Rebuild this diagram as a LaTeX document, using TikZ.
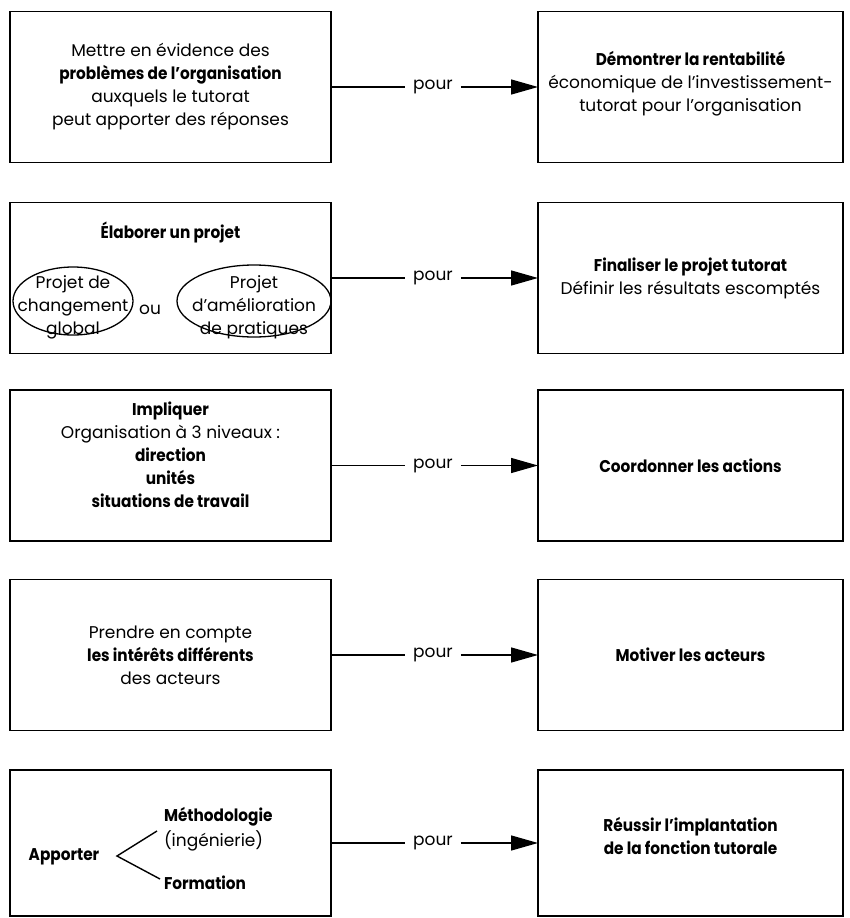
\documentclass[tikz,border=0pt]{standalone}
\usepackage{fontspec}
\setmainfont{Poppins}[BoldFeatures={FakeStretch=0.9}]
\usetikzlibrary{arrows.meta,shapes.geometric}

\begin{document}
\begin{tikzpicture}[x=1pt,y=-1pt,inner sep=0pt,outer sep=0pt,
font=\fontsize{17}{23}\selectfont,
leftblock/.style={draw,rectangle,align=center,minimum width=321pt,minimum height=151pt,line width=1.8pt},
rightblock/.style={draw,rectangle,align=center,minimum width=305pt,minimum height=151pt,line width=1.8pt},
projet/.style={draw,ellipse,line width=1.3pt},
pourlbl/.style={inner xsep=8pt,anchor=mid},
link/.style={line width=1.4pt},
pourarrow/.style={line width=1.4pt,-{Triangle[length=27pt,width=15pt]}}]

\useasboundingbox (0,0) rectangle (850,918);

% row 1
\draw (170.5,87) node[leftblock] (L1) {Mettre en évidence des\\\textbf{problèmes de l'organisation}\\auxquels le tutorat\\peut apporter des réponses};
\draw (690.5,87) node[rightblock,text depth=12pt] (R1) {\textbf{Démontrer la rentabilité}\\économique de l'investissement-\\tutorat pour l'organisation};
\draw (433,87) node[pourlbl] (P1) {pour};
\draw[link] (L1.east) -- (P1.mid west);
\draw[pourarrow] (P1.mid east) -- (R1.west);

% row 2
\draw (170.5,278) node[leftblock] (L2) {};
\draw (170.5,232) node (H2) {\textbf{Élaborer un projet}};
\draw (73,301) node[projet,minimum width=120pt,minimum height=68pt] (E2a) {};
\draw (73,307) node[align=center] (T2a) {Projet de\\changement\\global};
\draw (150,310) node (O2) {ou};
\draw (254,301) node[projet,minimum width=154pt,minimum height=72pt] (E2b) {};
\draw (254,307) node[align=center] (T2b) {Projet\\d'amélioration\\de pratiques};
\draw (690.5,278) node[rightblock] (R2) {\textbf{Finaliser le projet tutorat}\\Définir les résultats escomptés};
\draw (433,278) node[pourlbl] (P2) {pour};
\draw[link] (L2.east) -- (P2.mid west);
\draw[pourarrow] (P2.mid east) -- (R2.west);

% row 3
\draw (170.5,465.5) node[leftblock,text depth=21pt] (L3) {\textbf{Impliquer}\\Organisation à 3 niveaux :\\\textbf{direction}\\\textbf{unités}\\\textbf{situations de travail}};
\draw (690.5,465.5) node[rightblock] (R3) {\textbf{Coordonner les actions}};
\draw (433,465.5) node[pourlbl] (P3) {pour};
\draw[link] (L3.east) -- (P3.mid west);
\draw[pourarrow] (P3.mid east) -- (R3.west);

% row 4
\draw (170.5,655) node[leftblock] (L4) {Prendre en compte\\\textbf{les intérêts différents}\\des acteurs};
\draw (690.5,655) node[rightblock] (R4) {\textbf{Motiver les acteurs}};
\draw (433,655) node[pourlbl] (P4) {pour};
\draw[link] (L4.east) -- (P4.mid west);
\draw[pourarrow] (P4.mid east) -- (R4.west);

% row 5
\draw (170.5,843) node[leftblock,minimum height=146pt] (L5) {};
\draw (64,857) node (A5) {\textbf{Apporter}};
\draw (164,821) node[anchor=base west] (M5) {\textbf{Méthodologie}};
\draw (164,846) node[anchor=base west] (I5) {(ingénierie)};
\draw (164,889) node[anchor=base west] (F5) {\textbf{Formation}};
\coordinate (V5) at (117,856);
\coordinate (U5) at (157,831);
\coordinate (D5) at (160,879);
\draw[link] (U5) -- (V5) -- (D5);
\draw (690.5,843) node[rightblock,minimum height=146pt,text depth=14pt] (R5) {\textbf{Réussir l'implantation}\\\textbf{de la fonction tutorale}};
\draw (433,843) node[pourlbl] (P5) {pour};
\draw[link] (L5.east) -- (P5.mid west);
\draw[pourarrow] (P5.mid east) -- (R5.west);
\end{tikzpicture}
\end{document}
